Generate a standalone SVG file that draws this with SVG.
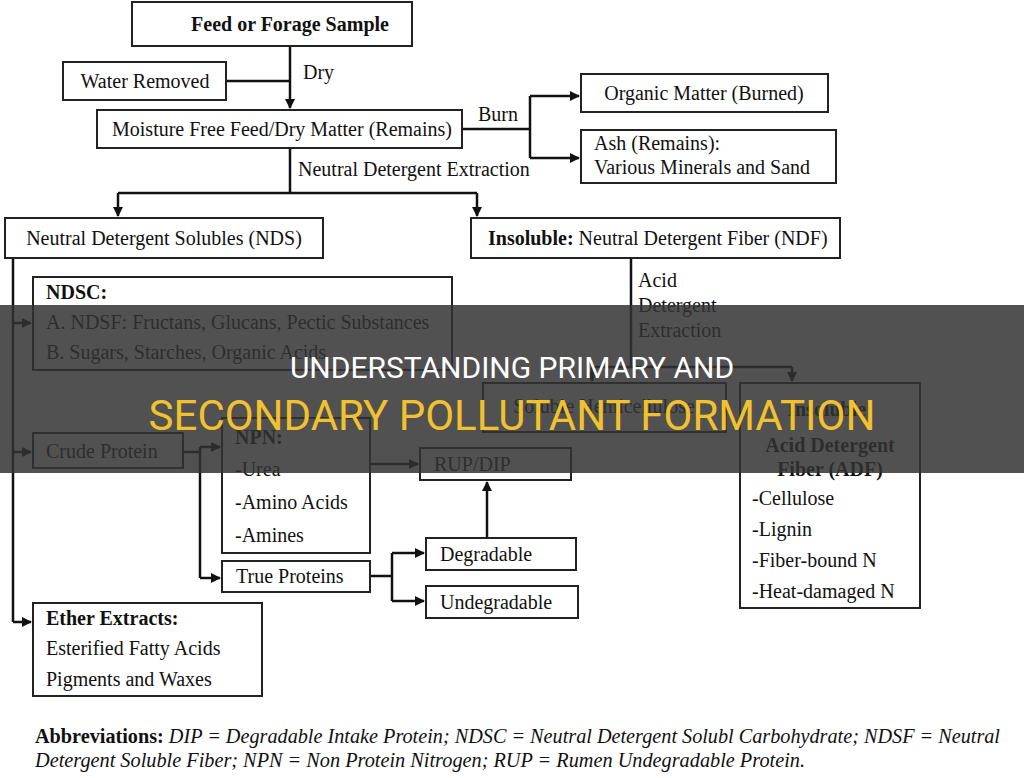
<svg xmlns="http://www.w3.org/2000/svg" width="1024" height="778" viewBox="0 0 1024 778">
<defs>
<style>
text{font-family:'Liberation Serif',Tinos,'Times New Roman',Times,serif;font-size:20px;fill:#111}
.b{font-weight:bold}
.box{fill:#fff;stroke:#222;stroke-width:2}
.ln{fill:none;stroke:#111;stroke-width:2.5}
.ab{font-style:italic}
</style>
<marker id="ah" markerWidth="10" markerHeight="10" refX="9" refY="5" orient="auto" markerUnits="userSpaceOnUse"><path d="M0,0 L10,5 L0,10 z" fill="#111"/></marker>
</defs>
<rect width="1024" height="778" fill="#fff"/>
<g id="connectors">
<path class="ln" d="M290,46 V108" marker-end="url(#ah)"/>
<path class="ln" d="M226,81 H290"/>
<path class="ln" d="M462,129 H530 M530,96 V158"/>
<path class="ln" d="M530,96 H579" marker-end="url(#ah)"/>
<path class="ln" d="M530,158 H579" marker-end="url(#ah)"/>
<path class="ln" d="M290,148 V193 M118,193 H477"/>
<path class="ln" d="M118,193 V216" marker-end="url(#ah)"/>
<path class="ln" d="M477,193 V216" marker-end="url(#ah)"/>
<path class="ln" d="M13,258 V622"/>
<path class="ln" d="M13,323 H31" marker-end="url(#ah)"/>
<path class="ln" d="M13,452 H31" marker-end="url(#ah)"/>
<path class="ln" d="M13,622 H31" marker-end="url(#ah)"/>
<path class="ln" d="M631,258 V367 M592,367 H792"/>
<path class="ln" d="M592,367 V381" marker-end="url(#ah)"/>
<path class="ln" d="M792,367 V381" marker-end="url(#ah)"/>
<path class="ln" d="M183,452 H200 M200,447 V578"/>
<path class="ln" d="M200,447 H220" marker-end="url(#ah)"/>
<path class="ln" d="M200,578 H220" marker-end="url(#ah)"/>
<path class="ln" d="M370,464 H418" marker-end="url(#ah)"/>
<path class="ln" d="M370,576 H392 M392,553 V601"/>
<path class="ln" d="M392,553 H424" marker-end="url(#ah)"/>
<path class="ln" d="M392,601 H424" marker-end="url(#ah)"/>
<path class="ln" d="M487,538 V482" marker-end="url(#ah)"/>
<text x="303" y="79">Dry</text>
<text x="478" y="121">Burn</text>
<text x="298" y="176">Neutral Detergent Extraction</text>
<text x="638" y="287">Acid</text>
<text x="638" y="312">Detergent</text>
<text x="638" y="337">Extraction</text>
</g>
<g id="feed"><rect class="box" x="132" y="2" width="280" height="44"/><text class="b" x="290" y="31" text-anchor="middle">Feed or Forage Sample</text></g>
<g id="water"><rect class="box" x="63" y="62" width="163" height="38"/><text x="145" y="88" text-anchor="middle">Water Removed</text></g>
<g id="moisture"><rect class="box" x="97" y="110" width="365" height="38"/><text x="282" y="136" text-anchor="middle">Moisture Free Feed/Dry Matter (Remains)</text></g>
<g id="organic"><rect class="box" x="581" y="74" width="247" height="38"/><text x="704" y="100" text-anchor="middle">Organic Matter (Burned)</text></g>
<g id="ash"><rect class="box" x="581" y="130" width="255" height="53"/><text x="594" y="150">Ash (Remains):</text><text x="594" y="174">Various Minerals and Sand</text></g>
<g id="nds"><rect class="box" x="5" y="218" width="318" height="40"/><text x="164" y="245" text-anchor="middle">Neutral Detergent Solubles (NDS)</text></g>
<g id="ndf"><rect class="box" x="471" y="218" width="369" height="40"/><text x="488" y="245"><tspan class="b">Insoluble:</tspan> Neutral Detergent Fiber (NDF)</text></g>
<g id="ndsc"><rect class="box" x="33" y="277" width="419" height="93"/><text class="b" x="46" y="299">NDSC:</text><text x="46" y="329">A. NDSF: Fructans, Glucans, Pectic Substances</text><text x="46" y="359">B. Sugars, Starches, Organic Acids</text></g>
<g id="hemi"><rect class="box" x="483" y="383" width="243" height="49"/><text x="604" y="413" text-anchor="middle">Soluble Hemicellulose</text></g>
<g id="adf"><rect class="box" x="740" y="383" width="180" height="225"/><text class="b" x="830" y="416" text-anchor="middle">Insoluble:</text><text class="b" x="830" y="452" text-anchor="middle">Acid Detergent</text><text class="b" x="830" y="476" text-anchor="middle">Fiber (ADF)</text><text x="752" y="505">-Cellulose</text><text x="752" y="536">-Lignin</text><text x="752" y="567">-Fiber-bound N</text><text x="752" y="598">-Heat-damaged N</text></g>
<g id="crude"><rect class="box" x="33" y="433" width="150" height="35"/><text x="46" y="458">Crude Protein</text></g>
<g id="npn"><rect class="box" x="222" y="418" width="148" height="135"/><text class="b" x="235" y="444">NPN:</text><text x="235" y="476">-Urea</text><text x="235" y="509">-Amino Acids</text><text x="235" y="542">-Amines</text></g>
<g id="rup"><rect class="box" x="420" y="448" width="151" height="32"/><text x="434" y="471">RUP/DIP</text></g>
<g id="true"><rect class="box" x="222" y="561" width="148" height="31"/><text x="236" y="583">True Proteins</text></g>
<g id="degr"><rect class="box" x="426" y="538" width="150" height="32"/><text x="440" y="561">Degradable</text></g>
<g id="undegr"><rect class="box" x="426" y="586" width="152" height="32"/><text x="440" y="609">Undegradable</text></g>
<g id="ether"><rect class="box" x="33" y="603" width="229" height="93"/><text class="b" x="46" y="625">Ether Extracts:</text><text x="46" y="655">Esterified Fatty Acids</text><text x="46" y="686">Pigments and Waxes</text></g>
<text x="35" y="743" textLength="965" lengthAdjust="spacingAndGlyphs"><tspan class="b">Abbreviations:</tspan><tspan class="ab"> DIP = Degradable Intake Protein; NDSC = Neutral Detergent Solubl Carbohydrate; NDSF = Neutral</tspan></text>
<text class="ab" x="35" y="767" textLength="770" lengthAdjust="spacingAndGlyphs">Detergent Soluble Fiber; NPN = Non Protein Nitrogen; RUP = Rumen Undegradable Protein.</text>
<g id="banner">
<rect x="0" y="305" width="1024" height="168" fill="#333" fill-opacity="0.85"/>
<text x="512" y="378" text-anchor="middle" style="font-family:Roboto,'Liberation Sans',sans-serif;font-size:30px;fill:#fff">UNDERSTANDING PRIMARY AND</text>
<text x="512" y="430" text-anchor="middle" style="font-family:Roboto,'Liberation Sans',sans-serif;font-size:42px;fill:#f2c12e">SECONDARY POLLUTANT FORMATION</text>
</g>
</svg>
